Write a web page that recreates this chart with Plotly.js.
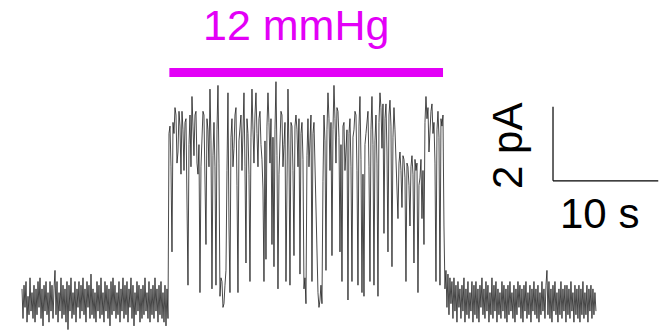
<!DOCTYPE html>
<html>
<head>
<meta charset="utf-8">
<script src="https://cdn.plot.ly/plotly-3.0.1.min.js"></script>
<style>html,body{margin:0;padding:0;background:#fff;}#chart{width:667px;height:333px;}</style>
</head>
<body>
<div id="chart"></div>
<script>
// Recording: current (pA), sampled every sampleInterval seconds
const sampleInterval = 0.095; // s
const startTime = 0;          // s

// Closed baseline before pressure
const currentBefore = [
  0.3,-0.5,0.4,-0.2,0.5,-0.6,0.1,-0.4,0.6,-0.3,0.2,-0.5,0.4,-0.6,0.3,
  -0.4,0.5,-0.2,0.6,-0.5,0.3,-0.7,0.4,-0.3,0.5,-0.4,0.2,-0.6,0.5,-0.3,
  0.4,-0.5,0.3,0.8,-0.4,0.5,-0.6,0.2,-0.3,0.6,-0.5,0.4,-0.4,0.3,-0.6,
  0.5,-0.8,0.4,-0.3,0.6,-0.5,0.2,-0.4,0.5,-0.6,0.3,-0.2,0.5,-0.5,0.4,
  -0.3,0.6,-0.4,0.3,-0.6,0.5,-0.2,0.4,-0.5,0.7,-0.4,0.3,-0.5,0.2,-0.6,
  0.5,-0.3,0.4,-0.5,0.6,-0.4,0.2,-0.6,0.5,-0.3,0.4,-0.5,0.3,-0.7,0.5,
  -0.4,0.6,-0.3,0.4,-0.5,0.2,-0.4,0.5,-0.6,0.3,-0.3,0.6,-0.5,0.4,-0.4,
  0.5,-0.6,0.3,-0.2,0.6,-0.5,0.4,-0.7,0.2,-0.4,0.5,-0.3,0.4,-0.6,0.3,
  -0.5,0.4,-0.4,0.6,-0.3,0.2,-0.5,0.5,-0.6,0.3,-0.4,0.4,-0.5,0.6,-0.3,
  0.3,-0.6,0.4,-0.4,0.5,-0.5,0.2,-0.6,0.4,-0.7,0.3,-0.5
];

// Channel activity during the 12 mmHg pressure step
const currentDuring = [
  4.5,4.7,3.6,1.3,4.8,4.5,5.2,5.0,3.7,4.0,5.1,4.7,3.4,5.1,4.6,3.5,4.8,4.9,3.2,0.4,
  4.2,5.0,3.6,5.5,4.7,3.9,5.0,5.1,3.7,3.4,4.2,0.2,3.6,4.7,5.1,5.0,3.5,1.5,4.9,4.6,
  3.6,5.7,4.3,0.3,3.9,4.8,3.6,0.4,4.6,5.8,3.7,0.1,0.6,0.5,-0.2,-0.1,0.4,0.8,3.5,5.6,
  2.0,0.2,4.4,4.9,3.6,4.1,5.0,5.2,3.1,0.2,4.3,4.8,5.0,3.5,4.7,5.6,3.6,1.0,4.9,4.5,
  3.4,0.5,4.4,5.7,4.6,3.7,5.0,5.6,4.5,3.6,4.9,5.1,4.2,3.8,3.0,0.5,4.3,1.1,4.7,5.6,
  4.8,3.7,4.9,1.5,4.4,0.9,4.6,5.9,3.9,0.3,3.4,4.6,5.1,5.0,3.6,4.2,4.8,0.5,4.5,5.7,
  4.0,0.4,4.8,4.7,3.5,1.2,4.7,5.0,4.6,3.6,4.9,0.7,4.5,4.8,3.8,0.3,0.6,-0.1,3.9,4.9,
  3.6,4.2,5.0,0.5,4.5,4.8,3.4,2.8,1.0,0.2,-0.2,0.0,0.4,-0.1,3.2,5.0,4.3,0.8,4.6,5.6,
  4.9,3.5,4.8,1.2,4.6,5.8,4.9,3.7,5.2,5.1,4.4,1.3,4.2,0.5,4.7,4.8,3.5,4.2,4.6,0.0,
  4.5,4.9,3.6,0.5,4.4,4.6,5.1,5.0,3.5,0.4,4.7,5.5,3.8,0.2,3.4,0.1,4.2,4.5,4.9,5.1,
  3.6,0.5,4.6,5.5,4.2,0.4,4.3,5.0,3.7,0.1,4.8,5.6,5.2,4.1,5.3,1.8,4.9,5.3,4.0,1.3,
  5.0,5.4,4.7,0.9,4.4,5.2,4.6,3.9,3.4,2.2,3.7,4.0,3.5,2.5,3.9,3.8,3.3,0.5,3.7,3.6,
  3.1,2.0,3.6,3.9,3.4,1.0,3.8,3.5,3.7,0.2,3.1,3.3,3.8,2.2,3.5,1.5,4.8,5.5,4.9,5.2,
  4.0,4.6,5.1,5.3,4.5,4.8,3.7,0.5,4.6,5.1,4.4,0.4,4.9,4.7,5.0,2.0,0.3
];

// Closed baseline after pressure release
const currentAfter = [
  0.8,-0.2,0.7,-0.4,0.6,-0.1,0.5,-0.5,0.6,-0.3,0.4,-0.6,0.5,-0.2,0.3,
  -0.5,0.4,-0.3,0.6,-0.6,0.3,-0.4,0.5,-0.5,0.2,-0.3,0.5,-0.6,0.4,-0.4,
  0.5,-0.5,0.3,-0.6,0.4,-0.2,0.6,-0.4,0.3,-0.5,0.5,-0.3,0.4,-0.6,0.2,
  -0.4,0.6,-0.5,0.4,-0.3,0.5,-0.6,0.3,-0.4,0.2,-0.5,0.5,-0.3,0.4,-0.5,
  0.3,-0.6,0.4,-0.4,0.5,-0.3,0.2,-0.5,0.4,-0.6,0.3,-0.4,0.5,-0.2,0.4,
  -0.5,0.3,-0.6,0.4,-0.3,0.5,-0.5,0.2,-0.4,0.4,-0.6,0.3,-0.3,0.5,-0.4,
  0.3,-0.5,0.4,-0.6,0.2,-0.4,0.5,-0.3,0.3,-0.5,0.4,0.8,-0.4,0.5,-0.5,
  0.3,-0.6,0.4,-0.3,0.5,-0.4,0.2,-0.6,0.3,-0.4,0.5,-0.5,0.3,-0.3,0.4,
  -0.6,0.4,-0.4,0.3,-0.5,0.5,-0.3,0.2,-0.6,0.4,-0.4,0.3,-0.5,0.4,-0.6,
  0.3,-0.4,0.5,-0.5,0.2,-0.4,0.4,-0.6,0.3,-0.3,0.4,-0.5,0.3,-0.4,0.2,
  -0.3
];

// Stimulus and scale bars
const stimulusLabel = "12 mmHg";
const stimulusStart = 14.0;  // s
const stimulusEnd = 40.0;    // s
const scaleTime = 10;        // s
const scaleCurrent = 2;      // pA
const scaleTimeLabel = "10 s";
const scaleCurrentLabel = "2 pA";

const current = currentBefore.concat(currentDuring, currentAfter);

const magenta = '#e300f7';
const fontFam = 'Liberation Sans, Arial, sans-serif';

const barT0 = 50.45, barI0 = 3.22;

const data = [{
  type: 'scatter',
  mode: 'lines',
  y: current,
  x0: startTime,
  dx: sampleInterval,
  line: {color: '#1c1c1c', width: 0.8},
  hoverinfo: 'skip'
}];

const layout = {
  width: 667, height: 333,
  margin: {l: 0, r: 0, t: 0, b: 0},
  paper_bgcolor: '#fff', plot_bgcolor: '#fff',
  showlegend: false,
  xaxis: {range: [-2.09, 61.28], visible: false, fixedrange: true},
  yaxis: {range: [-0.892, 8.108], visible: false, fixedrange: true},
  shapes: [
    {type: 'line', xref: 'x', yref: 'y', x0: stimulusStart, x1: stimulusEnd, y0: 6.15, y1: 6.15,
     line: {color: magenta, width: 9}},
    {type: 'line', xref: 'x', yref: 'y', x0: barT0, x1: barT0, y0: barI0, y1: barI0 + scaleCurrent,
     line: {color: '#000', width: 1.2}},
    {type: 'line', xref: 'x', yref: 'y', x0: barT0, x1: barT0 + scaleTime, y0: barI0, y1: barI0,
     line: {color: '#000', width: 1.2}}
  ],
  annotations: [
    {xref: 'x', yref: 'y', x: 26.0, y: 7.43, text: stimulusLabel,
     showarrow: false, xanchor: 'center', yanchor: 'middle',
     font: {family: fontFam, size: 43, color: magenta}},
    {xref: 'x', yref: 'y', x: 54.9, y: 2.35, text: scaleTimeLabel,
     showarrow: false, xanchor: 'center', yanchor: 'middle',
     font: {family: fontFam, size: 42, color: '#000'}},
    {xref: 'x', yref: 'y', x: 46.1, y: barI0 + scaleCurrent / 2 - 0.05, text: scaleCurrentLabel,
     showarrow: false, xanchor: 'center', yanchor: 'middle', textangle: -90,
     font: {family: fontFam, size: 42, color: '#000'}}
  ]
};

Plotly.newPlot('chart', data, layout, {staticPlot: true, displayModeBar: false});
</script>
</body>
</html>
